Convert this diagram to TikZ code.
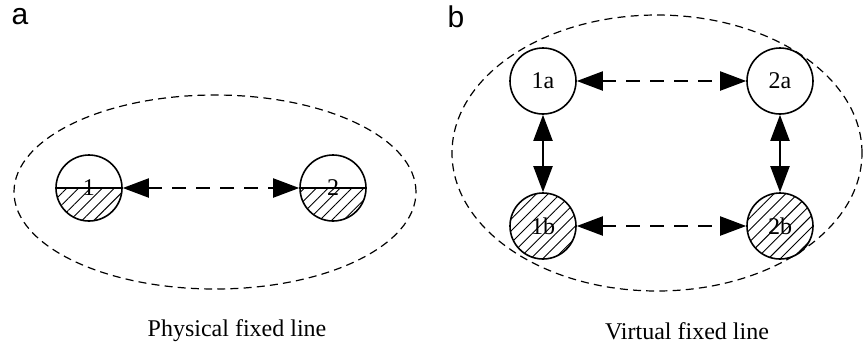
\documentclass[tikz,border=0pt]{standalone}
\usepackage{fontspec}
\setmainfont{Liberation Serif}
\newfontfamily\panelfont{Liberation Sans}
\usetikzlibrary{arrows.meta,shapes.geometric,patterns.meta}

\begin{document}
\begin{tikzpicture}[x=0.5pt,y=-0.5pt,
    station/.style={circle,draw,line width=0.8pt,minimum size=33pt,inner sep=0pt,font=\fontsize{12}{14}\selectfont},
    hatched/.style={pattern={Lines[angle=45,distance=4.2pt,line width=0.45pt]}},
    halfhatched/.style={path picture={
        \fill[hatched] (path picture bounding box.west) rectangle (path picture bounding box.south east);
        \draw[line width=0.8pt] (path picture bounding box.west) -- (path picture bounding box.east);}},
    grouprim/.style={ellipse,draw,dash pattern=on 4pt off 2.6pt,line width=0.6pt,inner sep=0pt},
    link/.style={{Triangle[length=13pt,width=9.5pt]}-{Triangle[length=13pt,width=9.5pt]},line width=1pt},
    dashlink/.style={link,dash pattern=on 7pt off 5pt},
    caption/.style={font=\fontsize{12}{14}\selectfont}]
  \useasboundingbox (0,0) rectangle (864,350);

  % panel a: physical fixed line
  \node[font=\panelfont\fontsize{15}{17}\selectfont] (lbla) at (20,17) {a};
  \node[grouprim,minimum width=201pt,minimum height=97pt] (grpa) at (215,192) {};
  \node[station,halfhatched] (n1) at (89,188) {1};
  \node[station,halfhatched] (n2) at (333,188) {2};
  \draw[dashlink] (n1) -- (n2);
  \node[caption] (capa) at (237,331) {Physical fixed line};

  % panel b: virtual fixed line
  \node[font=\panelfont\fontsize{15}{17}\selectfont] (lblb) at (456,17) {b};
  \node[grouprim,minimum width=205pt,minimum height=138pt] (grpb) at (657,153) {};
  \node[station] (n1a) at (543,81) {1a};
  \node[station] (n2a) at (780,81) {2a};
  \node[station,hatched] (n1b) at (543,226) {1b};
  \node[station,hatched] (n2b) at (780,226) {2b};
  \draw[dashlink] (n1a) -- (n2a);
  \draw[dashlink] (n1b) -- (n2b);
  \draw[link] (n1a) -- (n1b);
  \draw[link] (n2a) -- (n2b);
  \node[caption] (capb) at (687,331) {Virtual fixed line};
\end{tikzpicture}
\end{document}
